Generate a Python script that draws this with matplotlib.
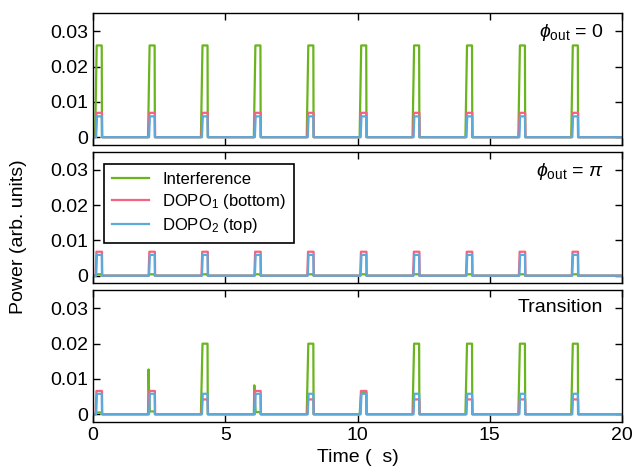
import numpy as np
import matplotlib.pyplot as plt

plt.rcParams['font.family'] = ['Liberation Sans', 'DejaVu Sans']
plt.rcParams['mathtext.fontset'] = 'custom'
plt.rcParams['mathtext.rm'] = 'Liberation Sans'
plt.rcParams['mathtext.it'] = 'Liberation Sans:italic'

# pulse start times (us), one per round trip
starts = [0.08, 2.08, 4.08, 6.08, 8.08, 10.08, 12.08, 14.08, 16.08, 18.08]

# panel 1: phi_out = 0
green_0 = [0.026] * 10
pink_0 = [0.0069] * 10
blue_0 = [0.0059] * 10

# panel 2: phi_out = pi
green_pi = [0.0004] * 10
pink_pi = [0.0068] * 10
blue_pi = [0.0059] * 10

# panel 3: transition
green_tr = [0.0005, 0.0008, 0.020, 0.0006, 0.020, 0.0062, 0.020, 0.020, 0.020, 0.020]
green_tr_spike = [0.0, 0.0127, 0.0, 0.0082, 0.0, 0.0, 0.0, 0.0, 0.0, 0.0]
pink_tr = [0.0066, 0.0066, 0.0042, 0.0066, 0.0042, 0.0066, 0.0042, 0.0042, 0.0042, 0.0042]
blue_tr = [0.0058] * 10

c_green = '#6ab41e'
c_pink = '#f2647f'
c_blue = '#5aaadc'


def trace(amps, t_on, t_off, rise, spikes=None):
    t = [0.0]
    y = [0.0]
    for i, s in enumerate(starts):
        a = amps[i]
        t0 = s + t_on
        if spikes is not None and spikes[i] > 0:
            t += [t0, t0 + 0.02, t0 + 0.04, t0 + 0.07]
            y += [0.0, spikes[i], spikes[i] * 0.5, a]
        else:
            t += [t0, t0 + rise]
            y += [0.0, a]
        t += [s + t_off, s + t_off + 0.01]
        y += [a, 0.0]
    t.append(20.0)
    y.append(0.0)
    return np.array(t), np.array(y)


fig, axes = plt.subplots(3, 1, figsize=(6.32, 4.73), dpi=100, sharex=True)
fig.subplots_adjust(left=93 / 632, right=622 / 632, top=1 - 13 / 473,
                    bottom=1 - 422 / 473, hspace=0.05)

panels = [
    (green_0, pink_0, blue_0, None, r'$\phi_{\rm out}$ = 0'),
    (green_pi, pink_pi, blue_pi, None, r'$\phi_{\rm out}$ = $\pi$'),
    (green_tr, pink_tr, blue_tr, green_tr_spike, 'Transition'),
]

for ax, (g, p, b, sp, label) in zip(axes, panels):
    tg, yg = trace(g, 0.0, 0.25, 0.06, sp)
    tp, yp = trace(p, 0.02, 0.26, 0.03)
    tb, yb = trace(b, 0.04, 0.25, 0.03)
    ax.plot(tg, yg, color=c_green, lw=1.6, label='Interference')
    ax.plot(tp, yp, color=c_pink, lw=1.6, label='DOPO$_1$ (bottom)')
    ax.plot(tb, yb, color=c_blue, lw=1.6, label='DOPO$_2$ (top)')
    ax.set_xlim(0, 20)
    ax.set_ylim(-0.0022, 0.0352)
    ax.set_yticks([0, 0.01, 0.02, 0.03])
    ax.set_yticklabels(['0', '0.01', '0.02', '0.03'])
    ax.set_xticks([0, 5, 10, 15, 20])
    ax.tick_params(direction='in', top=True, right=True, labelsize=14,
                   length=5, width=1)
    for spine in ax.spines.values():
        spine.set_linewidth(1.0)
    ax.text(0.965, 0.93, label, transform=ax.transAxes, ha='right', va='top',
            fontsize=14)

leg = axes[1].legend(loc='upper left', bbox_to_anchor=(0.005, 0.97), fontsize=12,
                     fancybox=False, framealpha=1, edgecolor='black',
                     handlelength=2.2, borderpad=0.5, labelspacing=0.3)
leg.get_frame().set_linewidth(1.2)

axes[2].set_xlabel('Time (  s)', fontsize=14)
fig.text(10 / 632, 0.5, 'Power (arb. units)', rotation=90,
         ha='left', va='center', fontsize=14)

fig.savefig('out.png', dpi=100)
